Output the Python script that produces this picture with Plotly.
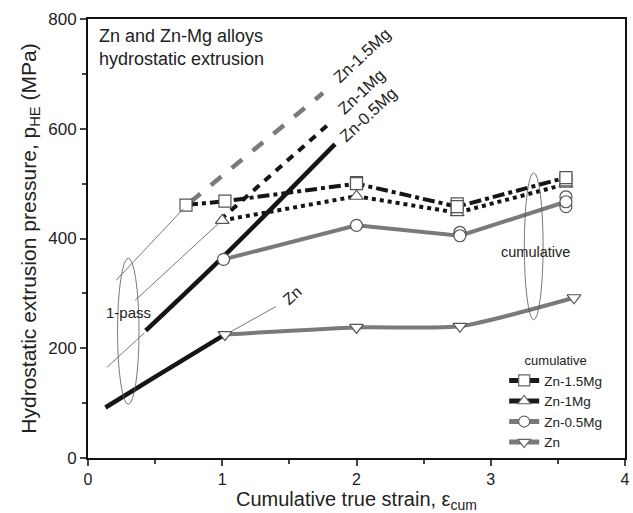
import plotly.graph_objects as go

# ---- data ----
# cumulative (multi-pass) results
zn_x = [1.02, 2.0, 2.77, 3.62]
zn_y = [225, 238, 240, 292]
mg05_x = [1.01, 2.0, 2.77, 3.56]
mg05_y = [362, 424, 405, 467]
mg05_extra_x = [2.77, 3.56, 3.56]
mg05_extra_y = [411, 476, 458]
mg1_x = [1.0, 2.0, 2.75, 3.56]
mg1_y = [433, 477, 447, 499]
mg15_x = [0.73, 1.02, 2.0, 2.75, 3.56]
mg15_y = [461, 468, 500, 458, 511]
mg15_extra_x = [2.0, 2.75, 3.56]
mg15_extra_y = [502, 463, 507]

# 1-pass results
p_zn_x = [0.13, 0.5, 1.0]
p_zn_y = [92, 148, 222]
p_mg05_x = [0.43, 1.0, 1.84]
p_mg05_y = [232, 365, 572]
p_mg1_x = [0.98, 1.81]
p_mg1_y = [433, 612]
p_mg15_x = [0.76, 1.75]
p_mg15_y = [466, 665]

legend_names = ["Zn-1.5Mg", "Zn-1Mg", "Zn-0.5Mg", "Zn"]
legend_symbols = ["square", "triangle-up", "circle", "triangle-down"]
legend_colors = ["#1a1a1a", "#1a1a1a", "#7a7a7a", "#7a7a7a"]

GRAY = "#7a7a7a"
BLACK = "#151515"

fig = go.Figure()

def mk(symbol):
    return dict(symbol=symbol, color="white", size=12, line=dict(color="#555555", width=1.2))

# 1-pass lines
fig.add_trace(go.Scatter(x=p_mg15_x, y=p_mg15_y, mode="lines", showlegend=False,
                         line=dict(color=GRAY, width=4.5, dash="dash")))
fig.add_trace(go.Scatter(x=p_mg1_x, y=p_mg1_y, mode="lines", showlegend=False,
                         line=dict(color=BLACK, width=4, dash="8px,7px")))
fig.add_trace(go.Scatter(x=p_mg05_x, y=p_mg05_y, mode="lines", showlegend=False,
                         line=dict(color=BLACK, width=4.5, shape="spline")))
fig.add_trace(go.Scatter(x=p_zn_x, y=p_zn_y, mode="lines", showlegend=False,
                         line=dict(color=BLACK, width=4.5, shape="spline")))

# cumulative lines
fig.add_trace(go.Scatter(x=zn_x, y=zn_y, mode="lines", showlegend=False,
                         line=dict(color=GRAY, width=4, shape="spline", smoothing=0.6)))
fig.add_trace(go.Scatter(x=mg05_x, y=mg05_y, mode="lines", showlegend=False,
                         line=dict(color=GRAY, width=4)))
fig.add_trace(go.Scatter(x=mg1_x, y=mg1_y, mode="lines", showlegend=False,
                         line=dict(color=BLACK, width=4, dash="dot")))
fig.add_trace(go.Scatter(x=mg15_x, y=mg15_y, mode="lines", showlegend=False,
                         line=dict(color=BLACK, width=4, dash="dashdot")))

# markers
fig.add_trace(go.Scatter(x=zn_x, y=zn_y, mode="markers", showlegend=False, marker=mk("triangle-down")))
fig.add_trace(go.Scatter(x=mg05_extra_x, y=mg05_extra_y, mode="markers", showlegend=False, marker=mk("circle")))
fig.add_trace(go.Scatter(x=mg05_x, y=mg05_y, mode="markers", showlegend=False, marker=mk("circle")))
fig.add_trace(go.Scatter(x=mg1_x, y=mg1_y, mode="markers", showlegend=False, marker=mk("triangle-up")))
fig.add_trace(go.Scatter(x=mg15_extra_x, y=mg15_extra_y, mode="markers", showlegend=False, marker=mk("square")))
fig.add_trace(go.Scatter(x=mg15_x, y=mg15_y, mode="markers", showlegend=False, marker=mk("square")))

# legend-only entries
for name, sym, col in zip(legend_names, legend_symbols, legend_colors):
    fig.add_trace(go.Scatter(x=[None], y=[None], mode="lines+markers", name=name,
                             line=dict(color=col, width=5),
                             marker=dict(symbol=sym, color="white", size=11,
                                         line=dict(color="#666666", width=1.2))))

thin = dict(color="#555555", width=0.8)
shapes = [
    dict(type="circle", xref="x", yref="y", x0=0.22, x1=0.38, y0=98, y1=364, line=thin),
    dict(type="circle", xref="x", yref="y", x0=3.25, x1=3.39, y0=252, y1=520, line=thin),
    dict(type="line", xref="x", yref="y", x0=0.21, y0=324, x1=0.71, y1=454, line=thin),
    dict(type="line", xref="x", yref="y", x0=0.35, y0=287, x1=0.97, y1=427, line=thin),
    dict(type="line", xref="x", yref="y", x0=0.14, y0=165, x1=0.42, y1=228, line=thin),
    dict(type="line", xref="x", yref="y", x0=1.07, y0=231, x1=1.40, y1=276, line=thin),
]

annots = [
    dict(x=0.07, y=790, text="Zn and Zn-Mg alloys<br>hydrostatic extrusion", xanchor="left", yanchor="top",
         align="left", size=18),
    dict(x=0.30, y=266, text="1-pass", size=15),
    dict(x=3.33, y=376, text="cumulative", size=14.5),
    dict(x=1.52, y=296, text="Zn", textangle=-42, size=16),
    dict(x=2.04, y=735, text="Zn-1.5Mg", textangle=-43, size=16.5),
    dict(x=2.04, y=668, text="Zn-1Mg", textangle=-43, size=16.5),
    dict(x=2.09, y=626, text="Zn-0.5Mg", textangle=-43, size=16.5),
]
for a in annots:
    s = a.pop("size")
    a.update(xref="x", yref="y", showarrow=False, font=dict(size=s, color="#222222"))

fig.update_layout(
    width=633, height=513,
    margin=dict(l=88, r=3, t=19, b=55),
    paper_bgcolor="white", plot_bgcolor="white",
    font=dict(family="Liberation Sans, Arial, sans-serif", color="#222222", size=13),
    shapes=shapes, annotations=annots,
    legend=dict(x=0.775, y=0.25, xanchor="left", yanchor="top",
                bgcolor="rgba(0,0,0,0)", font=dict(size=13.5),
                title=dict(text="cumulative", side="top center", font=dict(size=13)),
                itemwidth=30, tracegroupgap=0),
)
fig.update_xaxes(range=[0, 4], tickvals=[0, 1, 2, 3, 4], ticks="outside", ticklen=6, tickwidth=2,
                 minor=dict(tickvals=[0.5, 1.5, 2.5, 3.5], ticks="outside", ticklen=4, tickwidth=2),
                 showline=True, linewidth=2, linecolor="#111", mirror=True, showgrid=False,
                 zeroline=False, tickfont=dict(size=16), ticklabeloverflow="allow",
                 title=dict(text="Cumulative true strain, ε<sub>cum</sub>", font=dict(size=20), standoff=3))
fig.update_yaxes(range=[0, 800], tickvals=[0, 200, 400, 600, 800], ticks="outside", ticklen=6, tickwidth=2,
                 minor=dict(tickvals=[100, 300, 500, 700], ticks="outside", ticklen=4, tickwidth=2),
                 showline=True, linewidth=2, linecolor="#111", mirror=True, showgrid=False,
                 zeroline=False, tickfont=dict(size=17),
                 title=dict(text="Hydrostatic extrusion pressure, p<sub>HE</sub> (MPa)", font=dict(size=21), standoff=6))

fig.write_html("out.html")
